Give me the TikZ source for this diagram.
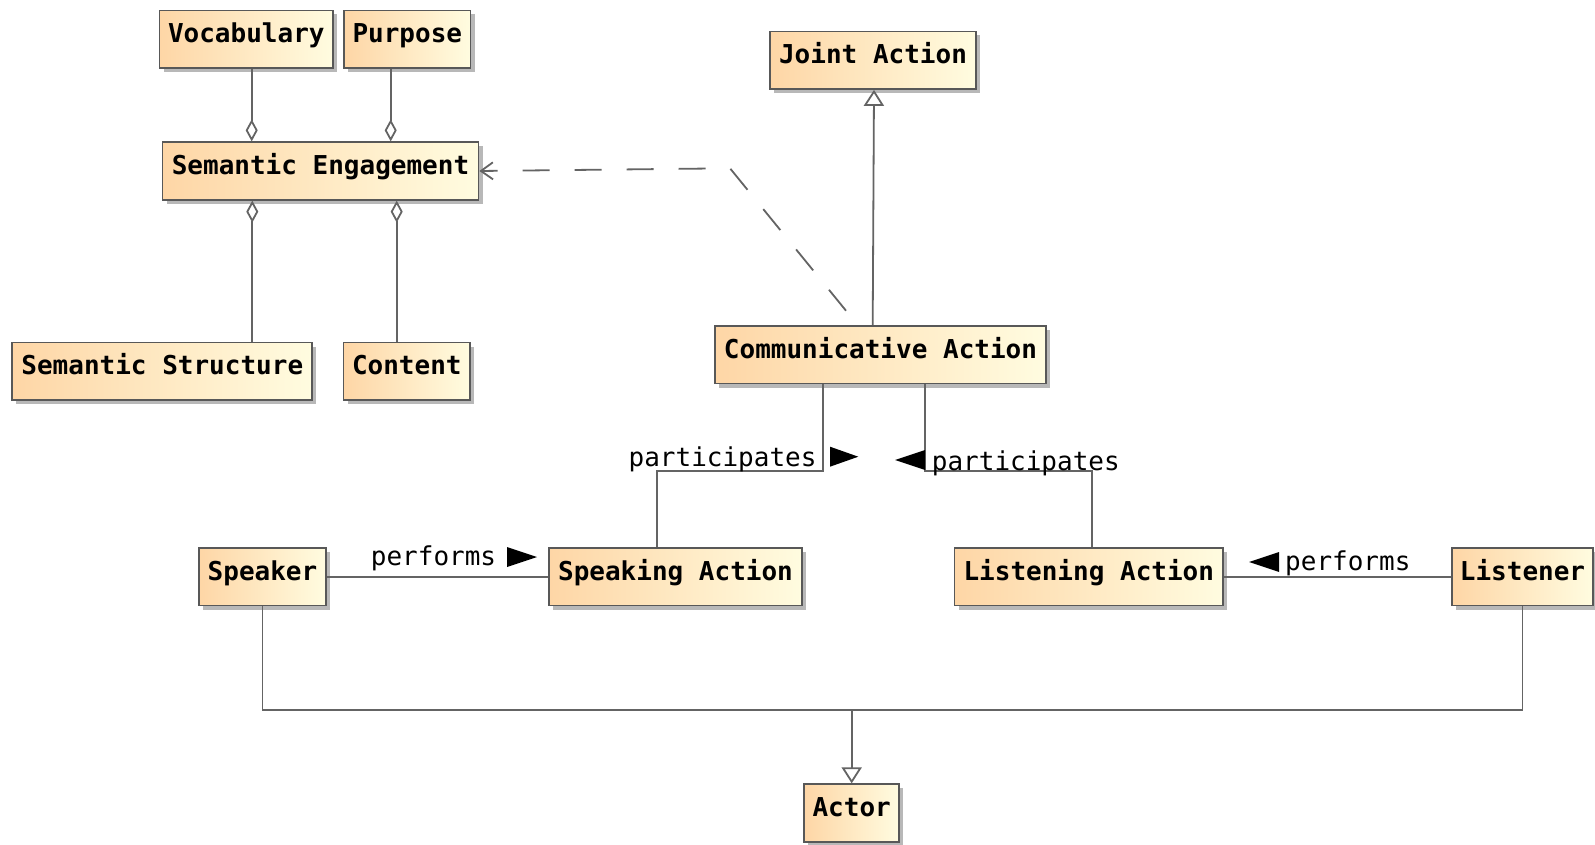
\documentclass[tikz,border=0pt]{standalone}
\usepackage{fontspec}
\newfontfamily\umlmono{DejaVu Sans Mono}
\usetikzlibrary{arrows.meta,shadows}
\definecolor{boxleft}{RGB}{254,214,166}
\definecolor{boxright}{RGB}{255,252,224}
\definecolor{edgegray}{RGB}{88,88,88}
\definecolor{conngray}{RGB}{100,100,100}
\begin{document}
\begin{tikzpicture}[x=1pt,y=-1pt,
  cls/.style={draw=edgegray, line width=1.8pt, left color=boxleft, right color=boxright,
    minimum height=57.5pt, inner xsep=4pt, inner ysep=0pt, text height=19.5pt, text depth=12.5pt,
    font=\umlmono\bfseries\fontsize{26}{30}\selectfont,
    drop shadow={shadow xshift=4pt, shadow yshift=-4pt, fill=black!28, opacity=1}},
  lbl/.style={font=\umlmono\fontsize{26}{30}\selectfont, inner sep=0pt},
  conn/.style={draw=conngray, line width=1.8pt},
  agg/.style={conn, arrows={Diamond[open,length=22pt,width=12pt]-}},
  gen/.style={conn, arrows={-Triangle[open,length=16pt,width=20pt]}},
  dep/.style={conn, dash pattern=on 27pt off 25pt, arrows={-Straight Barb[length=12pt,width=17pt]}}
]
\useasboundingbox (0,0) rectangle (1595,845);
\fill[white] (0,0) rectangle (1595,845);

% classes
\node[cls, minimum width=173.5pt] (voc) at (246.3,39.2) {Vocabulary};
\node[cls, minimum width=126.5pt] (pur) at (407.3,39.2) {Purpose};
\node[cls, minimum width=316pt] (se) at (320.5,171) {Semantic Engagement};
\node[cls, minimum width=206pt] (ja) at (873,60.2) {Joint Action};
\node[cls, minimum width=300pt] (ss) at (162.3,371.3) {Semantic Structure};
\node[cls, minimum width=126.5pt] (con) at (406.8,371.3) {Content};
\node[cls, minimum width=331pt] (ca) at (880.5,354.8) {Communicative Action};
\node[cls, minimum width=127pt] (spk) at (262.5,576.8) {Speaker};
\node[cls, minimum width=253pt] (sa) at (675.5,576.8) {Speaking Action};
\node[cls, minimum width=268.5pt] (la) at (1088.8,576.8) {Listening Action};
\node[cls, minimum width=141.6pt] (lis) at (1522.5,576.8) {Listener};
\node[cls, minimum width=95.3pt] (act) at (851.7,813) {Actor};

% helper coordinates
\coordinate (vx) at (251.7,0);
\coordinate (px) at (390.7,0);
\coordinate (ssx) at (252.3,0);
\coordinate (cx) at (396.7,0);
\coordinate (g1) at (872.7,0);
\coordinate (g2) at (874,0);
\coordinate (d0) at (846,310.7);
\coordinate (d1) at (730,168.3);
\coordinate (pl) at (822.7,470.7);
\coordinate (sak) at (656.7,470.7);
\coordinate (pr) at (925,470.7);
\coordinate (lak) at (1091.7,470.7);
\coordinate (jy) at (0,710);

% aggregations
\draw[agg] (se.north -| vx) -- (voc.south -| vx);
\draw[agg] (se.north -| px) -- (pur.south -| px);
\draw[agg] (se.south -| ssx) -- (ss.north -| ssx);
\draw[agg] (se.south -| cx) -- (con.north -| cx);

% generalization to Joint Action
\draw[gen] (ca.north -| g1) -- (ja.south -| g2);

% dependency
\draw[dep] (d0) -- (d1) -- (se.east);

% participates
\draw[conn] (ca.south -| pl) -- (pl) -- (sak) -- (sa.north -| sak);
\draw[conn] (ca.south -| pr) -- (pr) -- (lak) -- (la.north -| lak);
\node[lbl, anchor=base east] (part1) at (816.7,466) {participates};
\fill[black] (830,446.7) -- (858.3,456.7) -- (830,466.7) -- cycle;
\node[lbl, anchor=base west] (part2) at (931.7,470.5) {participates};
\fill[black] (925,450) -- (895,460) -- (925,470) -- cycle;

% performs
\draw[conn] (spk.east) -- (sa.west);
\draw[conn] (lis.west) -- (la.east);
\node[lbl, anchor=base west] (perf1) at (370.7,565) {performs};
\fill[black] (507,547) -- (537,557) -- (507,567) -- cycle;
\node[lbl, anchor=base west] (perf2) at (1285,570) {performs};
\fill[black] (1279,552) -- (1249,562) -- (1279,572) -- cycle;

% generalization to Actor
\draw[conn] (spk.south) |- (lis.south |- jy) -- (lis.south);
\draw[gen] (act.north |- jy) -- (act.north);
\end{tikzpicture}
\end{document}
